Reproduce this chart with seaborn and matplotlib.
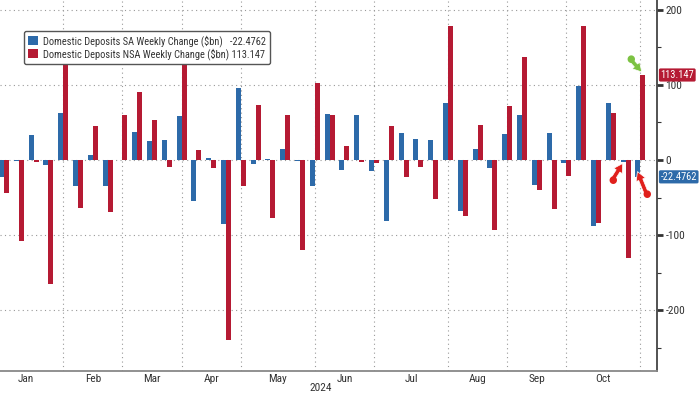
import pandas as pd
import matplotlib
matplotlib.use('Agg')
import matplotlib.pyplot as plt
import matplotlib.transforms as mtransforms
from matplotlib import font_manager
from matplotlib.ticker import MultipleLocator
import seaborn as sns


## DATOS (cambio semanal, $bn) ##

week_start = '2024-01-03'
sa_change = [-23, -1, 33, -6.7, 62, -34, 6.7, -34, 0.5, 37.8, 25, 26.7, 58.7, -54.7, 3, -85.3,
             95.6, -5.8, 1, 14.2, -1, -34, 61.3, -13.3, 59.6, -14.2, -81.3, 36, 27.6, 26.7,
             75.6, -67.6, 14.2, -11.1, 34.2, 60, -33.8, 35.6, -4.4, 99, -88, 75.6, -2.7, -22.4762]
nsa_change = [-43.5, -107.5, -3, -165, 150, -63.5, 45.8, -69, 60, 91, 53, -9.3, 150, 13.3, -10.2, -240,
              -34, 72.9, -77.8, 59.6, -120, 102, 59.6, 18.2, -3, -3.6, 44.9, -22.2, -8.9, -52.4,
              179, -74.7, 46.7, -93.3, 72, 137.3, -40, -64.9, -21.3, 177.8, -84.4, 62.2, -130, 113.147]
sa_name = 'Domestic Deposits SA Weekly Change ($bn)'
nsa_name = 'Domestic Deposits NSA Weekly Change ($bn)'
y_ticks = [-200, -100, 0, 100, 200]
year_label = '2024'

blue = '#2d6aa9'
red = '#b51a33'
txt = '#333333'

dates = pd.date_range(week_start, periods=len(sa_change), freq='7D')
df = pd.DataFrame({
    'week': list(range(len(dates))) * 2,
    'change': sa_change + nsa_change,
    'series': [sa_name] * len(dates) + [nsa_name] * len(dates),
})

# ultima semana de cada mes -> linea vertical
months = pd.Series(range(len(dates)), index=dates)
month_end = months.groupby(dates.month).max()
month_names = [d.strftime('%b') for d in months.groupby(dates.month).apply(lambda s: s.index[0])]


## FUENTE: una estrecha si hay, si no Liberation Sans más chica ##

def pick_font(names):
    for n in names:
        try:
            font_manager.findfont(n, fallback_to_default=False)
            return n
        except ValueError:
            pass
    return None

narrow = pick_font(['Liberation Sans Narrow', 'Roboto Condensed', 'DejaVu Sans Condensed',
                    'Open Sans Condensed', 'Noto Sans Condensed'])
if narrow:
    font, fs = narrow, 8.2
else:
    font, fs = 'Liberation Sans', 6.6


## GRAFICO ##

sns.set_style('white')
plt.rcParams['font.family'] = [font, 'DejaVu Sans']

fig = plt.figure(figsize=(7, 3.94), dpi=100)
ax = fig.add_axes([0, 1 - 371 / 394, 657 / 700, 371 / 394])

sns.barplot(data=df, x='week', y='change', hue='series', hue_order=[sa_name, nsa_name],
            palette=[blue, red], saturation=1, width=0.68, linewidth=0, ax=ax, zorder=3)

ax.set_xlim(-0.27, 44.12)
ax.set_ylim(-281, 213)

# ejes
ax.yaxis.tick_right()
ax.set_yticks(y_ticks)
ax.set_yticklabels([str(v) for v in y_ticks])
ax.yaxis.set_minor_locator(MultipleLocator(50))
ax.tick_params(axis='y', which='major', length=4, width=2, color='#333333',
               labelsize=fs, labelcolor=txt, pad=2)
ax.tick_params(axis='y', which='minor', length=3, width=0.8, color='#333333')
ax.set_xticks(month_end.values)
ax.set_xticklabels([])
ax.tick_params(axis='x', length=4, width=0.8, direction='inout', color='#666666')
ax.set_xlabel('')
ax.set_ylabel('')

for s in ['left', 'top']:
    ax.spines[s].set_visible(False)
ax.spines['right'].set_color('#444444')
ax.spines['right'].set_linewidth(1.3)
ax.spines['bottom'].set_color('#888888')
ax.spines['bottom'].set_linewidth(1.3)

ax.grid(True, which='major', axis='both', linestyle=(0, (1, 3)), color='#999999', linewidth=0.8)
ax.set_axisbelow(True)

# etiquetas de mes centradas entre lineas
bounds = [-1] + list(month_end.values)
for i, name in enumerate(month_names):
    ax.text((bounds[i] + bounds[i + 1]) / 2, -8 / 371, name, transform=ax.get_xaxis_transform(),
            ha='center', va='center', fontsize=fs, color=txt)
ax.text(21.4, -17 / 371, year_label, transform=ax.get_xaxis_transform(),
        ha='center', va='center', fontsize=fs, color=txt)

# leyenda con ultimo valor
handles, _ = ax.get_legend_handles_labels()
labels = [f'{sa_name}   {sa_change[-1]:g}', f'{nsa_name} {nsa_change[-1]:g}']
leg = ax.legend(handles, labels, loc='upper left', bbox_to_anchor=(24 / 657, 1 - 31 / 371),
                borderaxespad=0, fontsize=fs - 0.7, frameon=True, fancybox=True, framealpha=1,
                edgecolor='#555555', handlelength=0.95, handleheight=0.95, handletextpad=0.45,
                labelspacing=0.12, borderpad=0.4)
leg.get_frame().set_linewidth(1)
for t in leg.get_texts():
    t.set_color(txt)

# etiquetas del ultimo valor en el eje derecho
trans = mtransforms.blended_transform_factory(ax.transAxes, ax.transData)
for val, col in [(nsa_change[-1], red), (sa_change[-1], blue)]:
    ax.annotate(f'{val:g}', xy=(1, val), xycoords=trans, xytext=(2.5, 0), textcoords='offset points',
                ha='left', va='center', fontsize=fs - 0.6, color='white', annotation_clip=False,
                bbox=dict(boxstyle='round,pad=0.15', fc=col, ec='none'))

# flechas decorativas (flecha y punto por separado)
last = len(sa_change) - 1
arrows = [
    ((last + 0.09, nsa_change[-1] + 4), (-8, 9), '#7cc242'),
    ((last - 1 - 0.2, sa_change[-2] - 2), (-7.5, -12), '#e0201c'),
    ((last - 0.2, sa_change[-1] + 7), (6.5, -16), '#e0201c'),
]
for xy, off, col in arrows:
    ax.annotate('', xy=xy, xytext=off, textcoords='offset points', zorder=5,
                arrowprops=dict(arrowstyle='simple,head_width=0.8,head_length=0.7,tail_width=0.35',
                                fc=col, ec='white', lw=0.5, mutation_scale=9,
                                shrinkA=0, shrinkB=0))
    ax.annotate('●', xy=xy, xytext=off, textcoords='offset points', ha='center', va='center',
                fontsize=7, color=col, family='DejaVu Sans', zorder=6)

fig.savefig('out.png', dpi=100)
